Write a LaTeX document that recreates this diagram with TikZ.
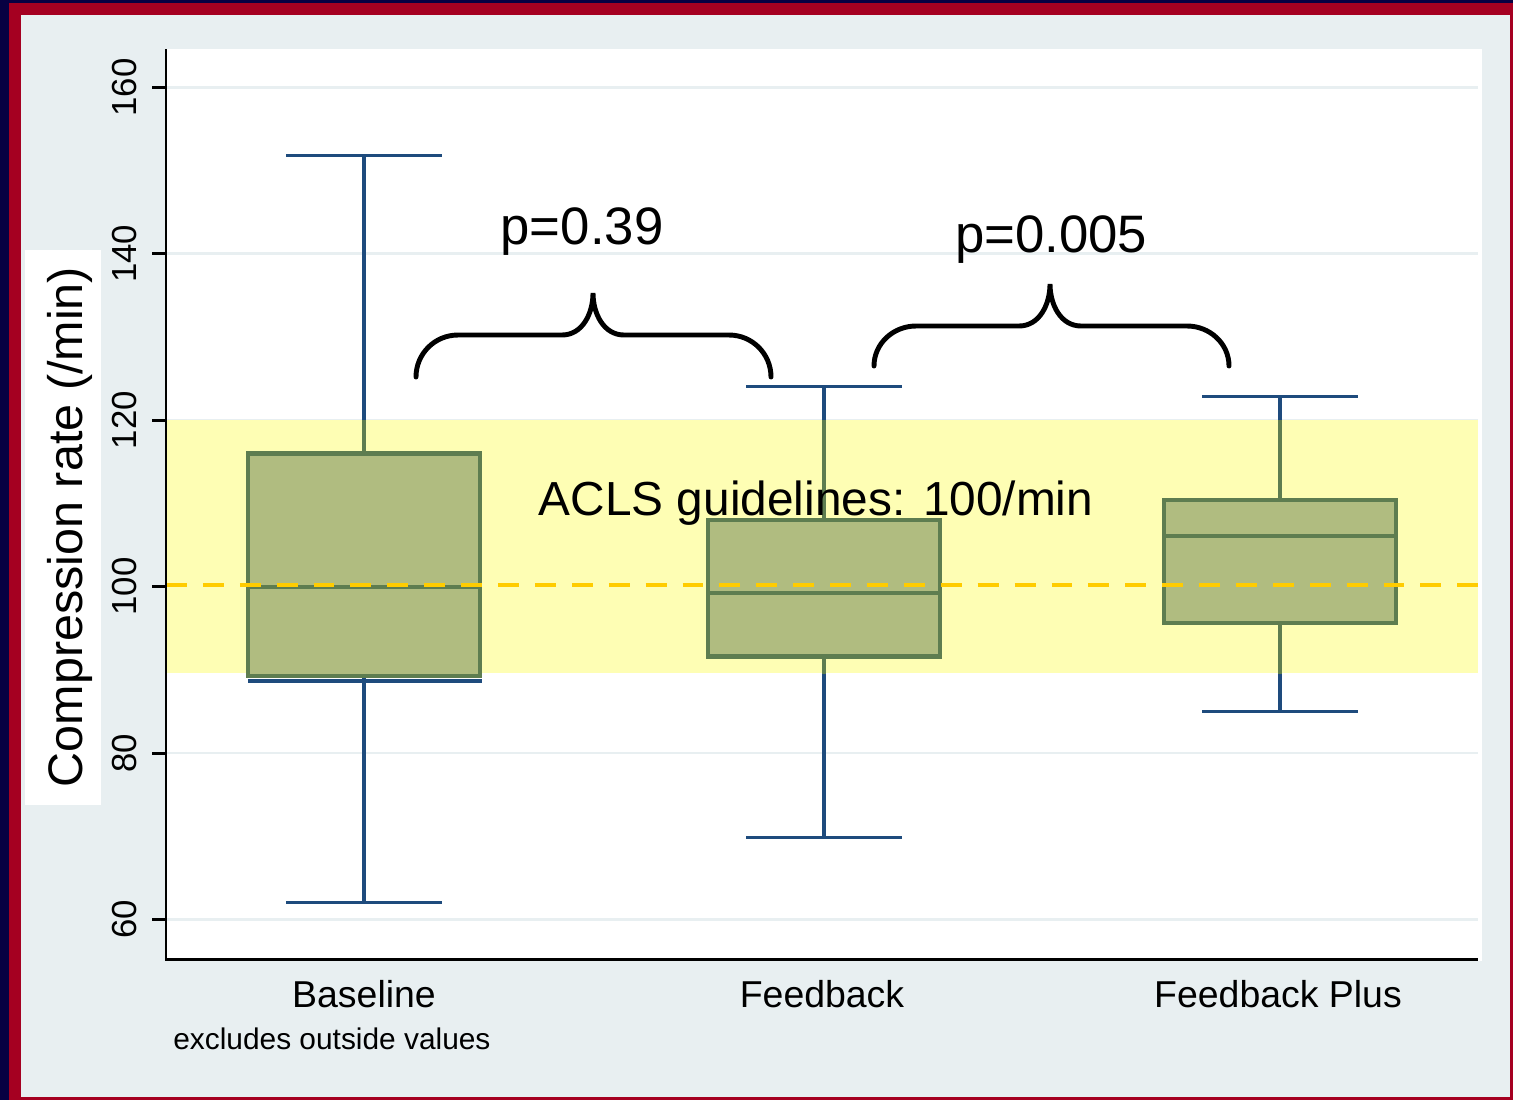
\documentclass[tikz,border=0pt]{standalone}
\usepackage{fontspec}
\setmainfont{Liberation Sans}
\usetikzlibrary{calc}

\definecolor{navyedge}{RGB}{8,0,66}
\definecolor{rededge}{RGB}{165,0,33}
\definecolor{panelgrey}{RGB}{232,239,241}
\definecolor{bandyellow}{RGB}{254,254,180}
\definecolor{guideorange}{RGB}{255,204,0}
\definecolor{boxolive}{RGB}{176,188,128}
\definecolor{boxgreen}{RGB}{94,125,80}
\definecolor{whiskblue}{RGB}{30,75,125}

\begin{document}
\begin{tikzpicture}[x=0.02cm, y=-0.02cm,
  every node/.style={inner sep=0pt, text=black},
  axisline/.style={line width=1.7pt},
  gridline/.style={draw=panelgrey, line width=1.6pt},
  whisk/.style={draw=whiskblue, line width=1.8pt},
  whiskin/.style={draw=boxgreen, line width=1.8pt},
  qbox/.style={fill=boxolive, draw=boxgreen, line width=2.3pt},
  medline/.style={draw=boxgreen, line width=2.3pt},
  guide/.style={draw=guideorange, line width=2.7pt, dash pattern=on 11.9pt off 9.1pt},
  brace/.style={line width=2.8pt, line cap=round},
  ticklab/.style={rotate=90, anchor=base, font=\fontsize{19.8}{20}\selectfont},
  catlab/.style={anchor=base, font=\fontsize{21.3}{22}\selectfont},
  pval/.style={anchor=base, font=\fontsize{30}{32}\selectfont}]

  % frame and panels
  \fill[navyedge] (0,0) rectangle (1513,1100);
  \fill[rededge] (9,3) rectangle (1513,1100);
  \fill[panelgrey] (21,15) rectangle (1510,1097);
  \fill[white] (166,49) rectangle (1482,961);
  \fill[white] (25,250) rectangle (101,805);
  \node[rotate=90, anchor=base, font=\fontsize{27.6}{28}\selectfont] (ytitle) at (82,527) {Compression rate (/min)};

  % data coordinates: y in /min
  \begin{scope}[shift={(0,1418.6)}, yscale=-8.32]
    \foreach \v in {60,80,...,160} {
      \draw[gridline] (166,\v) -- (1478,\v);
      \draw[axisline] (152,\v) -- (166,\v);
      \node[ticklab] (yt\v) at (136,\v) {\v};
    }
    \fill[bandyellow] (166,120) rectangle (1478,89.6);

    \foreach \g/\cx/\lo/\qa/\md/\qb/\hi in {base/364/62/89.2/100/116/151.8, fb/824/69.8/91.6/99.2/108/124.1, fbp/1280/85/95.6/106.1/110.4/122.9} {
      \coordinate (\g hi) at (\cx,\hi);
      \coordinate (\g qb) at (\cx,\qb);
      \coordinate (\g qa) at (\cx,\qa);
      \coordinate (\g lo) at (\cx,\lo);
      \draw[whisk] (\g hi) -- (\g qb) (\g qa) -- (\g lo);
      \draw[whisk] (\cx-78,\hi) -- (\cx+78,\hi) (\cx-78,\lo) -- (\cx+78,\lo);
      \begin{scope}
        \clip (166,120) rectangle (1478,89.6);
        \draw[whiskin] (\g hi) -- (\g qb) (\g qa) -- (\g lo);
      \end{scope}
      \draw[qbox] (\cx-116,\qa) rectangle (\cx+116,\qb);
      \draw[medline] (\cx-116,\md) -- (\cx+116,\md);
    }
    \draw[whisk, line width=2.3pt] (248,88.7) -- (482,88.7);

    % guideline rate
    \draw[guide] (166,100.2) -- (1478,100.2);
  \end{scope}

  % axes
  \draw[axisline] (166,49) |- (1478,959);

  \node[anchor=base, font=\fontsize{27.2}{28}\selectfont] (acls) at (816,515) {ACLS guidelines: 100/min};

  % comparison braces
  \draw[brace] (416,377) to[out=90,in=180] (458,335) -- (562,335) to[out=0,in=-90] (593,293)
    to[out=-90,in=180] (624,335) -- (729,335) to[out=0,in=90] (771,377);
  \draw[brace] (874,366) to[out=90,in=180] (916,326) -- (1019,326) to[out=0,in=-90] (1050,284)
    to[out=-90,in=180] (1081,326) -- (1187,326) to[out=0,in=90] (1229,366);
  \node[pval] (p1) at (582,244) {p=0.39};
  \node[pval] (p2) at (1051,252) {p=0.005};

  \node[catlab] (cbase) at (364,1007) {Baseline};
  \node[catlab] (cfb) at (822,1007) {Feedback};
  \node[catlab] (cfbp) at (1278,1007) {Feedback Plus};
  \node[anchor=base west, font=\fontsize{17}{18}\selectfont] (note) at (173,1049) {excludes outside values};
\end{tikzpicture}
\end{document}
